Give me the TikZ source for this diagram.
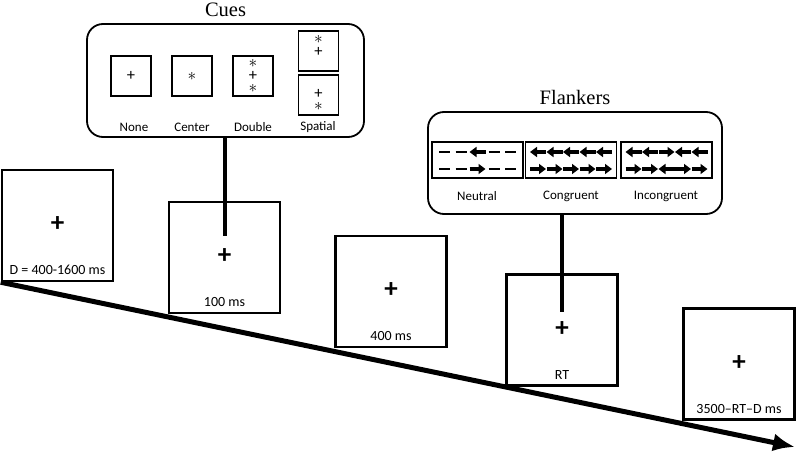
\documentclass[tikz,border=0pt]{standalone}
\usepackage{fontspec}
\setmainfont{Carlito}
\newfontfamily\titlefont{Liberation Serif}
\usetikzlibrary{arrows.meta,positioning}

\tikzset{
  screen/.style={draw, line width=2.5pt, minimum size=111pt, inner sep=0pt},
  cuebox/.style={draw, line width=1.2pt, minimum size=40pt, inner sep=0pt},
  panel/.style={draw, line width=1.2pt, minimum width=91pt, minimum height=36pt, inner sep=0pt},
  group/.style={draw, line width=1.8pt, rounded corners=16pt, inner sep=0pt},
  stem/.style={line width=4pt},
  timeline/.style={line width=5pt, -{Latex[length=22pt,width=18pt]}},
  flank/.style={line width=4pt, -{Triangle[length=7pt,width=10pt]}},
  gapline/.style={line width=2.5pt},
  fix/.style={font=\fontsize{27}{27}\selectfont\bfseries},
  timelabel/.style={font=\fontsize{14}{16}\selectfont},
  condlabel/.style={font=\fontsize{13}{15}\selectfont},
  sym/.style={font=\fontsize{16.5}{12.8}\selectfont, inner sep=0pt, align=center},
  title/.style={font=\titlefont\fontsize{20.5}{22}\selectfont},
}
\newcommand{\cuestar}{$\ast$}

\begin{document}
\begin{tikzpicture}[x=1pt,y=-1pt]
  \useasboundingbox (0,0) rectangle (796,452);

  % Screens along the time line
  \node[screen] (s1) at (57.5,225.5) {};
  \node[screen] (s2) at (224.5,257.5) {};
  \node[screen] (s3) at (391,291.5) {};
  \node[screen] (s4) at (562,330) {};
  \node[screen] (s5) at (739,364) {};

  % Fixation cross and duration in each screen
  \foreach \s/\t in {s1/D = 400-1600 ms, s2/100 ms, s3/400 ms, s4/RT, s5/3500–RT–D ms} {
    \node[fix] at ([yshift=1pt]\s.center) {+};
    \node[timelabel] at ([yshift=12pt]\s.south) {\t};
  }

  % Time line
  \coordinate (tip) at (795,447);
  \draw[timeline] (s1.south west) -- (tip);

  % Cues
  \node[group, minimum width=277pt, minimum height=113pt] (cues) at (225.5,80.5) {};
  \node[title, above=3pt of cues] {Cues};
  \node[cuebox] (cnone) at (131,76) {};
  \node[cuebox] (ccenter) at (192,76) {};
  \node[cuebox] (cdouble) at (253,76) {};
  \node[cuebox] (cup) at (318.5,51) {};
  \node[cuebox] (cdown) at (318.5,95) {};
  \node[sym] at (cnone) {+};
  \node[sym] at (ccenter) {\cuestar};
  \node[sym] at (cdouble) {\cuestar\\+\\\cuestar};
  \node[sym] at ([yshift=5pt]cup.center) {\cuestar\\+};
  \node[sym] at ([yshift=-5pt]cdown.center) {+\\\cuestar};
  \node[condlabel] at (134,127) {None};
  \node[condlabel] at (192,127) {Center};
  \node[condlabel] at (253,127) {Double};
  \node[condlabel] at (318,127) {Spatial};
  \draw[stem] (s2.center |- cues.south) -- ([yshift=22pt]s2.center);

  % Flankers
  \node[group, minimum width=294pt, minimum height=102pt] (flankers) at (575,163) {};
  \node[title, above=3pt of flankers] {Flankers};
  \node[panel] (neu) at (477.5,160) {};
  \node[panel] (con) at (571,160) {};
  \node[panel] (inc) at (666.5,160) {};
  \node[condlabel] at (477,196) {Neutral};
  \node[condlabel] at (571,196) {Congruent};
  \node[condlabel] at (666,196) {Incongruent};
  \draw[stem] (s4.center |- flankers.south) -- ([yshift=18pt]s4.center);

  % Neutral rows
  \foreach \i in {-2,-1,1,2} {
    \draw[gapline] (477.5+16.5*\i-5.5,152) -- ++(11,0);
    \draw[gapline] (477.5+16.5*\i-5.5,169) -- ++(11,0);
  }
  \draw[flank] (485.5,152) -- ++(-16,0);
  \draw[flank] (469.5,169) -- ++(16,0);

  % Congruent rows
  \foreach \i in {-2,...,2} {
    \draw[flank] (571+16.5*\i+8,152) -- ++(-16,0);
    \draw[flank] (571+16.5*\i-8,169) -- ++(16,0);
  }

  % Incongruent rows
  \foreach \i/\d in {-2/-1,-1/-1,0/1,1/-1,2/-1} {
    \draw[flank] (666.5+16.5*\i-8*\d,152) -- ++(16*\d,0);
    \draw[flank] (666.5+16.5*\i+8*\d,169) -- ++(-16*\d,0);
  }
\end{tikzpicture}
\end{document}
